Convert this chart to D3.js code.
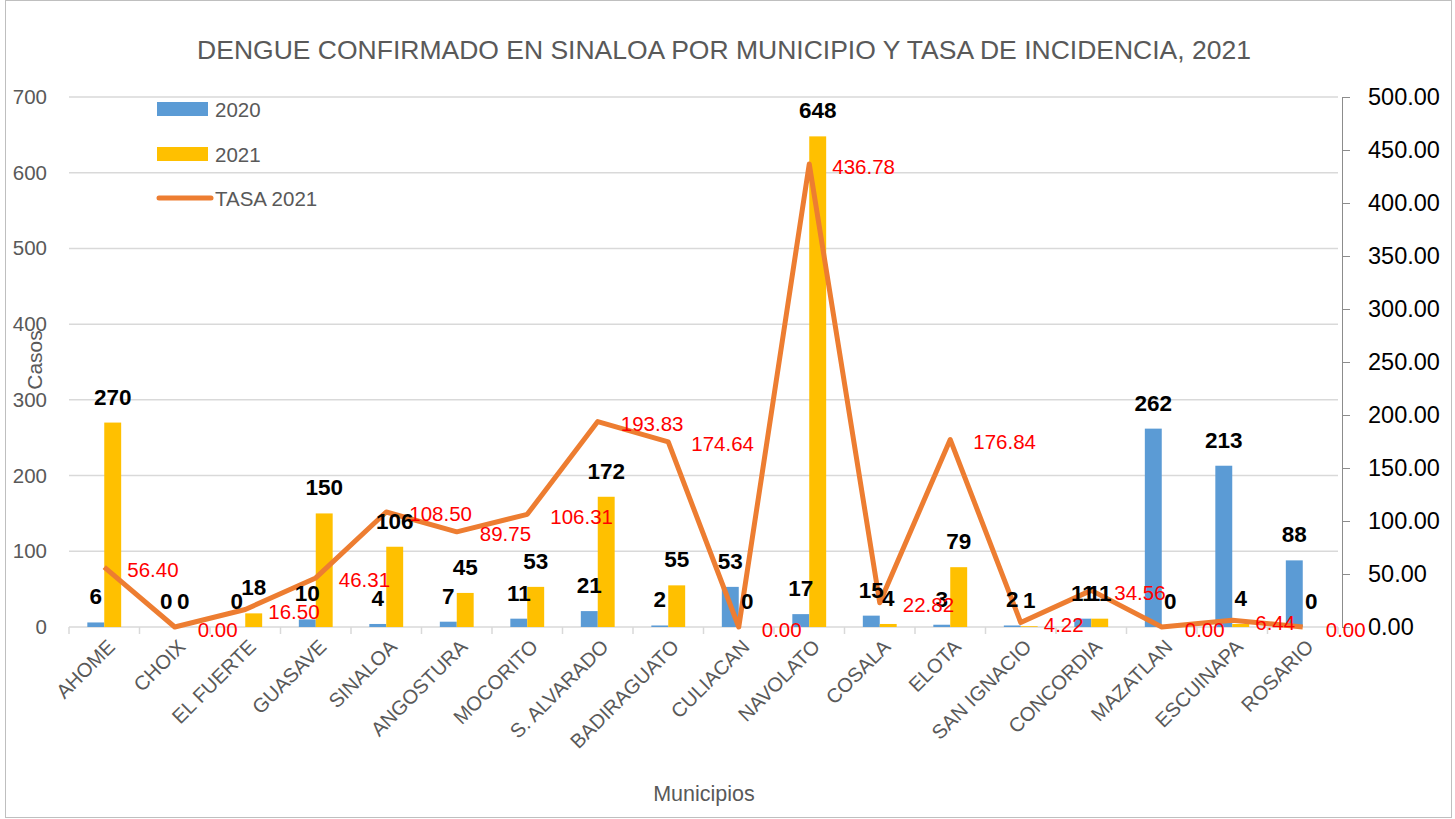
<!DOCTYPE html>
<html>
<head>
<meta charset="utf-8">
<script src="https://cdn.jsdelivr.net/npm/d3@7"></script>
<style>
  html, body { margin: 0; padding: 0; background: #fff; }
  svg { display: block; font-family: "Liberation Sans", Arial, sans-serif; }
</style>
</head>
<body>
<div id="root"></div>
<script>
const municipios = [
  "AHOME", "CHOIX", "EL FUERTE", "GUASAVE", "SINALOA", "ANGOSTURA",
  "MOCORITO", "S. ALVARADO", "BADIRAGUATO", "CULIACAN", "NAVOLATO", "COSALA",
  "ELOTA", "SAN IGNACIO", "CONCORDIA", "MAZATLAN", "ESCUINAPA", "ROSARIO"
];
const casos2020 = [6, 0, 0, 10, 4, 7, 11, 21, 2, 53, 17, 15, 3, 2, 11, 262, 213, 88];
const casos2021 = [270, 0, 18, 150, 106, 45, 53, 172, 55, 0, 648, 4, 79, 1, 11, 0, 4, 0];
const tasa2021 = [56.40, 0.00, 16.50, 46.31, 108.50, 89.75, 106.31, 193.83, 174.64, 0.00,
  436.78, 22.82, 176.84, 4.22, 34.56, 0.00, 6.44, 0.00];
const leftTicks = [0, 100, 200, 300, 400, 500, 600, 700];
const rightTicks = [0, 50, 100, 150, 200, 250, 300, 350, 400, 450, 500];

const width = 1455, height = 819;
const margins = { top: 97, right: 117, bottom: 192, left: 69 };
const gWidth = width - margins.left - margins.right;
const gHeight = height - margins.top - margins.bottom;

const gray = "#595959", grid = "#d9d9d9";
const colors = { c2020: "#5B9BD5", c2021: "#FFC000", tasa: "#ED7D31" };

const svg = d3.select("#root").append("svg")
  .attr("width", width).attr("height", height);

// chart frame
svg.append("rect")
  .attr("x", 5.5).attr("y", 0.5).attr("width", 1446).attr("height", 817)
  .attr("fill", "none").attr("stroke", "#bfbfbf");

svg.append("text")
  .attr("x", 724).attr("y", 59)
  .attr("text-anchor", "middle")
  .attr("fill", gray)
  .style("font-size", "26.5px")
  .text("DENGUE CONFIRMADO EN SINALOA POR MUNICIPIO Y TASA DE INCIDENCIA, 2021");

const g = svg.append("g").attr("transform", `translate(${margins.left}, ${margins.top})`);

const x0 = d3.scaleBand().domain(municipios).range([0, gWidth])
  .paddingInner(0.52).paddingOuter(0.26);
const x1 = d3.scaleBand().domain(["2020", "2021"]).range([0, x0.bandwidth()]);
const yL = d3.scaleLinear().domain([0, 700]).range([gHeight, 0]);
const yR = d3.scaleLinear().domain([0, 500]).range([gHeight, 0]);
const step = x0.step();

// gridlines
g.append("g").selectAll("line").data(leftTicks.slice(1)).join("line")
  .attr("x1", 0).attr("x2", gWidth)
  .attr("y1", d => yL(d)).attr("y2", d => yL(d))
  .attr("stroke", grid).attr("stroke-width", 1.5);

// left axis (labels only)
const axL = g.append("g").call(d3.axisLeft(yL).tickValues(leftTicks).tickSize(0).tickPadding(22));
axL.select(".domain").remove();
axL.selectAll("text").attr("fill", gray).style("font-size", "20.5px")
  .attr("font-family", "Liberation Sans, Arial, sans-serif");

// right axis
const axR = g.append("g").attr("transform", `translate(${gWidth + 4}, 0)`)
  .call(d3.axisRight(yR).tickValues(rightTicks).tickFormat(d3.format(".2f")).tickSize(8).tickPadding(18));
axR.select(".domain").attr("stroke", "#8c8c8c");
axR.selectAll(".tick line").attr("stroke", "#8c8c8c");
axR.selectAll("text").attr("fill", "#000").style("font-size", "23.5px")
  .attr("font-family", "Liberation Sans, Arial, sans-serif");

// x axis baseline and category separators
g.append("line").attr("x1", 0).attr("x2", gWidth)
  .attr("y1", gHeight).attr("y2", gHeight)
  .attr("stroke", grid).attr("stroke-width", 1.5);
g.append("g").selectAll("line").data(d3.range(municipios.length + 1)).join("line")
  .attr("x1", i => i * step).attr("x2", i => i * step)
  .attr("y1", gHeight).attr("y2", gHeight + 7)
  .attr("stroke", grid).attr("stroke-width", 1.5);

// x labels, rotated
g.append("g").selectAll("text").data(municipios).join("text")
  .attr("transform", d => `translate(${x0(d) + x0.bandwidth() / 2 + 12}, ${gHeight + 21}) rotate(-45)`)
  .attr("text-anchor", "end")
  .attr("fill", gray)
  .style("font-size", "20px")
  .text(d => d);

// bars
const rows = municipios.map((m, i) => ({ m, v2020: casos2020[i], v2021: casos2021[i], tasa: tasa2021[i] }));
const series = [
  { key: "2020", field: "v2020", color: colors.c2020 },
  { key: "2021", field: "v2021", color: colors.c2021 }
];

series.forEach(s => {
  g.append("g").selectAll("rect").data(rows).join("rect")
    .attr("x", d => x0(d.m) + x1(s.key))
    .attr("width", x1.bandwidth())
    .attr("y", d => yL(d[s.field]))
    .attr("height", d => gHeight - yL(d[s.field]))
    .attr("fill", s.color);
});

// tasa line
const line = d3.line()
  .x(d => x0(d.m) + x0.bandwidth() / 2)
  .y(d => yR(d.tasa));
g.append("path").datum(rows)
  .attr("d", line)
  .attr("fill", "none")
  .attr("stroke", colors.tasa)
  .attr("stroke-width", 5)
  .attr("stroke-linejoin", "round");

// bar value labels
series.forEach(s => {
  g.append("g").selectAll("text").data(rows).join("text")
    .attr("x", d => x0(d.m) + x1(s.key) + x1.bandwidth() / 2)
    .attr("y", d => yL(d[s.field]) - 18)
    .attr("text-anchor", "middle")
    .attr("fill", "#000")
    .style("font-size", "22.5px")
    .style("font-weight", "bold")
    .text(d => d[s.field]);
});

// tasa labels
g.append("g").selectAll("text").data(rows).join("text")
  .attr("x", d => x0(d.m) + x0.bandwidth() / 2 + 23)
  .attr("y", d => yR(d.tasa) + 2)
  .attr("dominant-baseline", "central")
  .attr("fill", "#FF0000")
  .style("font-size", "20.5px")
  .text(d => d3.format(".2f")(d.tasa));

// axis titles
svg.append("text")
  .attr("transform", "translate(42, 360) rotate(-90)")
  .attr("text-anchor", "middle")
  .attr("fill", gray)
  .style("font-size", "21px")
  .text("Casos");
svg.append("text")
  .attr("x", 704).attr("y", 801)
  .attr("text-anchor", "middle")
  .attr("fill", gray)
  .style("font-size", "21.5px")
  .text("Municipios");

// legend
const legend = svg.append("g").attr("transform", "translate(157, 0)");
const legendItems = [
  { label: "2020", color: colors.c2020, type: "rect", y: 109 },
  { label: "2021", color: colors.c2021, type: "rect", y: 154 },
  { label: "TASA 2021", color: colors.tasa, type: "line", y: 198 }
];
legendItems.forEach(it => {
  if (it.type === "rect") {
    legend.append("rect").attr("x", 0).attr("y", it.y - 7).attr("width", 51).attr("height", 14)
      .attr("fill", it.color);
  } else {
    legend.append("line").attr("x1", 2).attr("x2", 54).attr("y1", it.y).attr("y2", it.y)
      .attr("stroke", it.color).attr("stroke-width", 5).attr("stroke-linecap", "round");
  }
  legend.append("text").attr("x", 58).attr("y", it.y)
    .attr("dominant-baseline", "central")
    .attr("fill", gray)
    .style("font-size", "20.5px")
    .text(it.label);
});
</script>
</body>
</html>
